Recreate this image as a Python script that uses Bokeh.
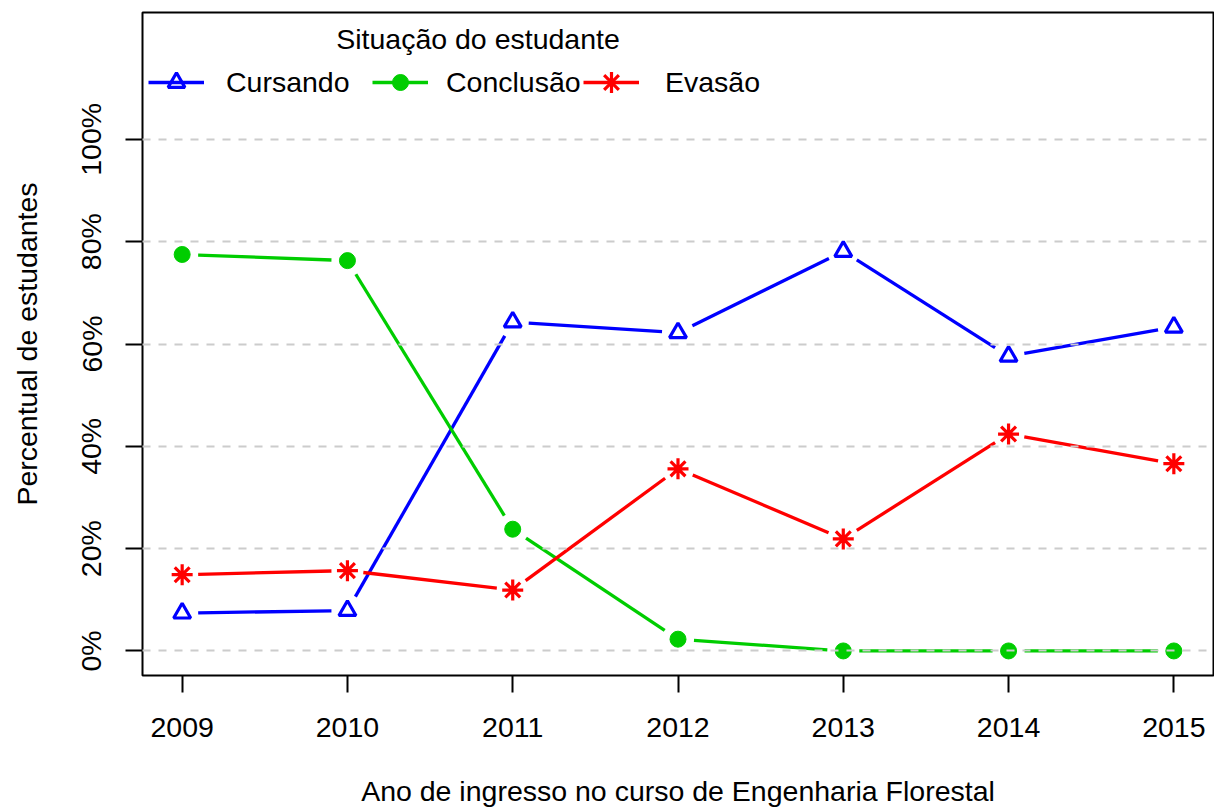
import math
from bokeh.plotting import figure
from bokeh.models import Range1d, FixedTicker, PrintfTickFormatter, Legend, LegendItem, Label
from bokeh.embed import file_html
from bokeh.resources import INLINE

# ---- data ----
anos = [2009, 2010, 2011, 2012, 2013, 2014, 2015]
cursando = [7.4, 7.9, 64.3, 62.2, 78.1, 57.6, 63.3]
conclusao = [77.5, 76.3, 23.8, 2.3, 0.0, 0.0, 0.0]
evasao = [14.9, 15.7, 11.9, 35.6, 21.9, 42.4, 36.6]
series_names = ["Cursando", "Conclusão", "Evasão"]
y_ticks = [0, 20, 40, 60, 80, 100]
legend_title = "Situação do estudante"
x_title = "Ano de ingresso no curso de Engenharia Florestal"
y_title = "Percentual de estudantes"

# ---- layout ----
W, H = 1214, 809
ML, MR, MT, MB = 142, 1, 12, 134
FW, FH = W - ML - MR, H - MT - MB
X0, X1 = 2008.76, 2015.24
Y0, Y1 = -4.8, 124.8
FONT = "Liberation Sans"
FS = "28.5px"

BLUE, GREEN, RED = "#0000FF", "#00CD00", "#FF0000"

p = figure(width=W, height=H, output_backend="svg", toolbar_location=None,
           x_range=Range1d(X0, X1), y_range=Range1d(Y0, Y1),
           min_border_left=ML, min_border_right=MR, min_border_top=MT, min_border_bottom=MB)
p.background_fill_color = "white"
p.border_fill_color = "white"
p.outline_line_color = "black"
p.outline_line_width = 2

# gapped line segments (R type="b")
def gapped(xs, ys, gap=16.0):
    sx = FW / (X1 - X0)
    sy = FH / (Y1 - Y0)
    a, b, c, d = [], [], [], []
    for i in range(len(xs) - 1):
        dx = (xs[i + 1] - xs[i]) * sx
        dy = (ys[i + 1] - ys[i]) * sy
        L = math.hypot(dx, dy)
        if L <= 2 * gap:
            continue
        f = gap / L
        a.append(xs[i] + (xs[i + 1] - xs[i]) * f)
        b.append(ys[i] + (ys[i + 1] - ys[i]) * f)
        c.append(xs[i + 1] - (xs[i + 1] - xs[i]) * f)
        d.append(ys[i + 1] - (ys[i + 1] - ys[i]) * f)
    return a, b, c, d

LW = 3.3
renderers = []
specs = [
    (cursando, BLUE, dict(marker="triangle", size=17, line_width=3.2, fill_alpha=0), 42),
    (conclusao, GREEN, dict(marker="circle", size=16, line_width=1), 40),
    (evasao, RED, dict(marker="asterisk", size=21, line_width=3.2), 52),
]
for vals, col, mk, gh in specs:
    a, b, c, d = gapped(anos, vals)
    seg = p.segment(x0=a, y0=b, x1=c, y1=d, line_color=col, line_width=LW)
    sc = p.scatter(x=anos, y=vals, line_color=col, fill_color=col, **mk)
    renderers.append((seg, sc, gh))

# legends (one per item to mimic R horizontal legend spacing)
legend_x = [6, 230, 441]
legend_standoff = [22, 18, 26]
center_y = 675 - 82
for (seg, sc, gh), name, lx, so in zip(renderers, series_names, legend_x, legend_standoff):
    leg = Legend(items=[LegendItem(label=name, renderers=[seg, sc])],
                 location=(lx, center_y - gh / 2), orientation="horizontal",
                 glyph_width=56, glyph_height=gh, label_standoff=so,
                 padding=0, margin=0, spacing=0, border_line_color=None,
                 background_fill_alpha=0, label_text_font=FONT,
                 label_text_font_size=FS, label_text_color="black", label_height=30)
    p.add_layout(leg)

p.add_layout(Label(x=335.5, y=675 - 38, x_units="screen", y_units="screen",
                   text=legend_title, text_align="center", text_baseline="middle",
                   text_font=FONT, text_font_size=FS, text_color="black"))

# axes
p.xaxis.ticker = FixedTicker(ticks=anos)
p.yaxis.ticker = FixedTicker(ticks=y_ticks)
p.yaxis.formatter = PrintfTickFormatter(format="%d%%")
p.yaxis.major_label_orientation = "vertical"
for ax in (p.xaxis[0], p.yaxis[0]):
    ax.axis_line_color = None
    ax.major_tick_line_color = "black"
    ax.major_tick_line_width = 2
    ax.major_tick_out = 17
    ax.major_tick_in = 0
    ax.minor_tick_line_color = None
    ax.major_label_text_font = FONT
    ax.major_label_text_font_size = FS
    ax.major_label_text_color = "black"
    ax.axis_label_text_font = FONT
    ax.axis_label_text_font_size = FS
    ax.axis_label_text_font_style = "normal"
    ax.axis_label_text_color = "black"
p.xaxis.axis_label = x_title
p.yaxis.axis_label = y_title
p.xaxis.major_label_standoff = 25
p.xaxis.axis_label_standoff = 35
p.yaxis.major_label_standoff = 18
p.yaxis.axis_label_standoff = 30

p.xgrid.visible = False
p.ygrid.ticker = FixedTicker(ticks=y_ticks)
p.ygrid.grid_line_color = "#CCCCCC"
p.ygrid.grid_line_width = 2
p.ygrid.grid_line_dash = "8 8"
p.ygrid.level = "guide"

open("out.html", "w").write(file_html(p, INLINE))
